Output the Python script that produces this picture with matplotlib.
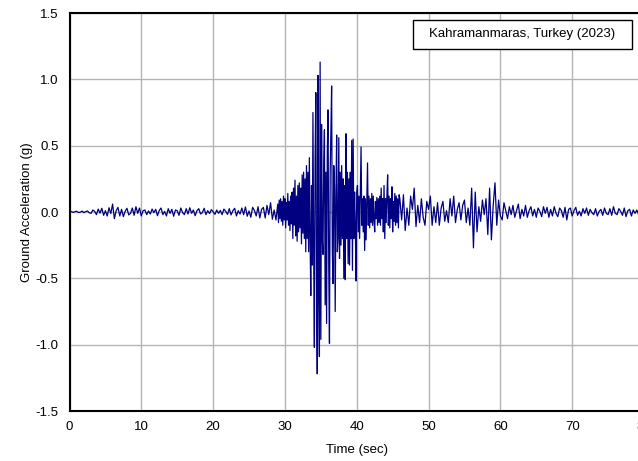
import matplotlib
matplotlib.use('Agg')
import matplotlib.pyplot as plt
from matplotlib.patches import Rectangle
import numpy as np

plt.rcParams['font.family'] = ['Liberation Sans', 'DejaVu Sans']

# Ground acceleration (g), three sampling segments
# quiet start: 0 - 28.75 s every 0.25 s
acc_pre = [
    0.0, 0.004, -0.003, 0.002, 0.006, -0.004, -0.002, 0.007, -0.005, 0.003, 0.008, -0.006,
    -0.01, 0.015, 0.005, -0.02, 0.022, -0.008, 0.028, -0.025, 0.01, -0.03, 0.032, -0.012,
    0.06, -0.05, 0.01, 0.035, -0.03, 0.02, -0.035, 0.005, 0.028, -0.022, -0.01, 0.03,
    -0.025, 0.04, -0.01, 0.03, -0.03, 0.01, 0.015, -0.02, 0.008, -0.015, 0.022, -0.005,
    0.02, -0.028, 0.012, 0.03, -0.02, 0.005, -0.03, 0.025, -0.01, 0.02, -0.032, 0.015,
    0.01, -0.025, 0.03, -0.005, -0.02, 0.025, -0.015, 0.032, -0.01, 0.015, -0.028, 0.01,
    0.025, -0.015, -0.005, 0.028, -0.02, 0.01, -0.012, 0.018, 0.002, -0.018, 0.015, -0.01,
    0.012, -0.02, 0.022, 0.005, -0.018, 0.025, -0.022, 0.01, 0.028, -0.03, 0.01, -0.015,
    0.03, -0.02, 0.038, -0.032, 0.008, -0.04, 0.035, 0.012, -0.03, 0.04, -0.045, 0.02,
    0.035, -0.045, 0.05, -0.02, 0.07, -0.055, 0.015, -0.06,
]
# strong motion: 29.0 - 45.9 s every 0.1 s
acc_main = [
    0.06, -0.08, 0.09, -0.05, 0.1, -0.07, 0.08, -0.1, 0.12, -0.06,
    0.1, -0.12, 0.07, -0.06, 0.14, -0.1, 0.08, -0.14, 0.12, -0.09,
    0.15, -0.2, 0.18, -0.1, 0.24, -0.18, 0.12, -0.22, 0.2, -0.15,
    0.22, -0.12, 0.18, -0.24, 0.28, -0.16, 0.3, -0.2, 0.25, -0.3,
    0.35, -0.2, 0.3, -0.3, 0.41, -0.2, -0.63, 0.2, -0.4, 0.75,
    -0.3, -1.02, 0.4, 0.9, -0.5, -1.22, 1.03, -0.6, -1.09, 1.13,
    -0.96, 0.66, -0.2, -0.32, 0.35, 0.62, -0.7, 0.3, -0.84, 0.45,
    0.77, -0.4, -0.99, 0.3, 0.6, 0.95, -0.3, -0.54, 0.35, 0.2,
    -0.75, 0.1, 0.58, -0.3, -0.2, 0.56, -0.35, 0.3, -0.25, 0.35,
    -0.2, 0.25, -0.5, 0.2, -0.51, 0.59, -0.2, 0.3, -0.39, 0.25,
    -0.4, 0.3, -0.2, 0.54, -0.44, 0.55, -0.2, 0.15, -0.1, -0.52,
    0.15, 0.2, -0.15, 0.12, -0.2, 0.15, 0.49, -0.1, 0.1, -0.15,
    0.12, -0.29, 0.1, -0.21, 0.08, 0.37, -0.1, 0.12, -0.12, 0.1,
    -0.08, 0.14, -0.1, 0.12, -0.06, -0.15, 0.08, -0.05, 0.11, -0.1,
    0.1, -0.08, 0.12, -0.1, 0.18, -0.05, 0.1, -0.15, 0.2, -0.2,
    0.1, -0.08, 0.12, 0.28, -0.1, 0.12, -0.12, 0.1, -0.05, 0.19,
    -0.15, 0.08, -0.07, 0.14, -0.1, 0.12, -0.08, 0.1, -0.12, 0.13,
]
# decaying tail: 46.0 - 80.0 s every 0.25 s
acc_post = [
    0.1, -0.06, 0.13, -0.14, 0.03, -0.1, 0.12, 0.02, 0.18, -0.11, 0.05, -0.08,
    0.1, -0.04, -0.1, 0.08, 0.02, 0.12, -0.1, 0.04, -0.08, 0.07, -0.1, 0.03,
    0.08, -0.07, 0.01, -0.08, 0.1, -0.03, 0.12, -0.08, 0.02, 0.07, -0.06, 0.05,
    0.09, -0.08, 0.03, -0.1, 0.18, -0.27, 0.15, -0.15, 0.04, -0.07, 0.09, -0.02,
    0.1, -0.17, 0.18, -0.21, 0.05, 0.22, -0.1, 0.09, -0.03, -0.06, 0.07, 0.01,
    -0.05, 0.04, -0.02, 0.05, -0.04, 0.01, 0.06, -0.05, 0.02, -0.03, 0.05, -0.04,
    0.01, 0.04, -0.03, 0.02, -0.04, 0.03, 0.005, -0.035, 0.04, -0.01, 0.035, -0.04,
    0.02, -0.03, 0.04, -0.01, -0.035, 0.03, 0.01, -0.04, 0.035, -0.06, 0.02, 0.03,
    -0.03, 0.01, 0.035, -0.025, 0.005, -0.03, 0.025, -0.01, 0.03, -0.025, 0.02, -0.005,
    -0.02, 0.025, -0.03, 0.005, 0.02, -0.025, 0.03, -0.01, -0.02, 0.025, -0.025, 0.04,
    -0.01, -0.02, 0.025, 0.005, -0.025, 0.03, -0.035, 0.01, 0.02, -0.03, 0.015, -0.01,
    0.015, -0.02, 0.01, -0.005, 0.005,
]

t_pre = np.arange(len(acc_pre)) * 0.25
t_main = 29.0 + np.arange(len(acc_main)) * 0.1
t_post = 46.0 + np.arange(len(acc_post)) * 0.25

time = np.concatenate([t_pre, t_main, t_post])
acc = np.concatenate([acc_pre, acc_main, acc_post])

x_ticks = [0, 10, 20, 30, 40, 50, 60, 70, 80]
y_ticks = [-1.5, -1.0, -0.5, 0.0, 0.5, 1.0, 1.5]
legend_label = 'Kahramanmaras, Turkey (2023)'

fig = plt.figure(figsize=(6.38, 4.61), dpi=100)
# axes run slightly past the right edge of the figure, as in the source image
ax = fig.add_axes([69.5 / 638, 50 / 461, 574.5 / 638, 398 / 461])

ax.plot(time, acc, color='#000080', linewidth=0.9, zorder=3)

ax.set_xlim(0, 80)
ax.set_ylim(-1.5, 1.5)
ax.set_xticks(x_ticks)
ax.set_yticks(y_ticks)
ax.set_yticklabels([f'{v:.1f}' for v in y_ticks])
ax.tick_params(axis='y', length=0, labelsize=9.5, pad=8)
ax.tick_params(axis='x', length=0, labelsize=9.5, pad=7)
ax.grid(True, color='#b4b4b4', linewidth=1.0)
for s in ax.spines.values():
    s.set_linewidth(1.5)
    s.set_color('black')

ax.set_xlabel('Time (sec)', fontsize=9.5, labelpad=8)
ax.set_ylabel('Ground Acceleration (g)', fontsize=9.5, labelpad=2)

# legend box
box = Rectangle(((413 - 69.5) / 574.5, (411 - 49) / 398), 219 / 574.5, 29 / 398,
                transform=ax.transAxes, facecolor='white', edgecolor='black',
                linewidth=1.0, zorder=5)
ax.add_patch(box)
ax.text((522 - 69.5) / 574.5, (411 - 34.5) / 398, legend_label, transform=ax.transAxes,
        ha='center', va='center', fontsize=9.5, zorder=6)

fig.savefig('out.png', dpi=100)
